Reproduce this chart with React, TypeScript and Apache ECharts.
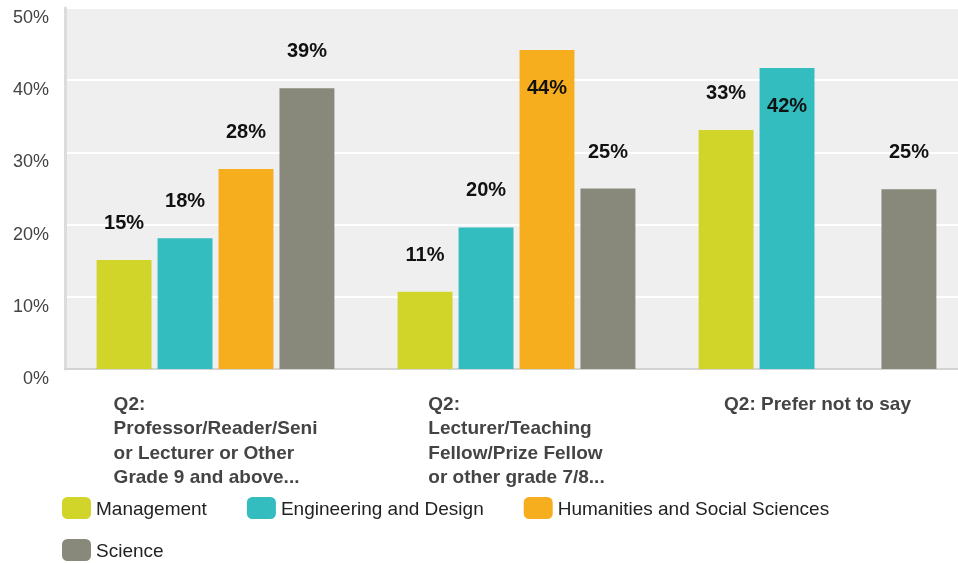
import React, { useEffect, useRef } from "react";
import * as echarts from "echarts";

const categories = [
  "Q2:\nProfessor/Reader/Seni\nor Lecturer or Other\nGrade 9 and above...",
  "Q2:\nLecturer/Teaching\nFellow/Prize Fellow\nor other grade 7/8...",
  "Q2: Prefer not to say",
];
const seriesNames = [
  "Management",
  "Engineering and Design",
  "Humanities and Social Sciences",
  "Science",
];
const management = [15.1, 10.7, 33.1];
const engineering = [18.1, 19.6, 41.7];
const humanities = [27.7, 44.2, null];
const science = [38.9, 25.0, 24.9];
const colors = ["#d1d52a", "#33bdbf", "#f6ae1f", "#88897a"];
const yTicks = [0, 10, 20, 30, 40, 50];

const FONT = "'Liberation Sans', Arial, Helvetica, sans-serif";

export default function App() {
  const ref = useRef<HTMLDivElement>(null);
  useEffect(() => {
    if (!ref.current) return;
    const chart = echarts.init(ref.current, undefined, { renderer: "svg" });
    const allData = [management, engineering, humanities, science];
    const series = allData.map((vals, i) => ({
      name: seriesNames[i],
      type: "bar",
      barCategoryGap: "21%",
      barGap: "11%",
      itemStyle: { color: colors[i] },
      data: vals.map((v) =>
        v == null
          ? null
          : {
              value: v,
              label:
                v >= 40
                  ? { position: "insideTop", distance: 27 }
                  : { position: "top", distance: 28 },
            }
      ),
      label: {
        show: true,
        color: "#111",
        fontSize: 20,
        fontWeight: "bold",
        fontFamily: FONT,
        formatter: (p: any) => `${Math.round(p.value)}%`,
      },
    }));
    const legendBase = {
      left: 62,
      orient: "horizontal",
      icon: "roundRect",
      itemWidth: 29,
      itemHeight: 22,
      itemGap: 40,
      padding: 0,
      textStyle: { fontSize: 19, color: "#222", fontFamily: FONT },
    };
    chart.setOption({
      animation: false,
      textStyle: { fontFamily: FONT },
      grid: {
        left: 65,
        width: 903,
        top: 8,
        bottom: 194,
        show: true,
        backgroundColor: "#efefef",
        borderWidth: 0,
        containLabel: false,
        outerBoundsMode: "none",
      },
      legend: [
        { ...legendBase, data: seriesNames.slice(0, 3), top: 497 },
        { ...legendBase, data: seriesNames.slice(3), top: 539 },
      ],
      xAxis: {
        type: "category",
        data: categories,
        axisTick: { show: false },
        axisLine: { show: true, lineStyle: { color: "#d3d3d3", width: 2 } },
        axisLabel: {
          interval: 0,
          margin: 22,
          align: "center",
          formatter: (v: string) =>
            v
              .split("\n")
              .map((l) => `{a|${l}}`)
              .join("\n"),
          rich: {
            a: {
              align: "left",
              fontSize: 19,
              fontWeight: "bold",
              color: "#444",
              lineHeight: 24.5,
              fontFamily: FONT,
            },
          },
        },
      },
      yAxis: {
        type: "value",
        min: yTicks[0],
        max: yTicks[yTicks.length - 1],
        interval: 10,
        axisLine: { show: true, lineStyle: { color: "#dcdcdc", width: 3 } },
        axisTick: { show: false },
        splitLine: { show: true, lineStyle: { color: "#ffffff", width: 2 } },
        axisLabel: {
          formatter: (v: number) => `${v}%`,
          fontSize: 18,
          color: "#444",
          margin: 16,
          verticalAlign: "top",
          fontFamily: FONT,
        },
      },
      series,
    });
    return () => chart.dispose();
  }, []);
  return (
    <div
      ref={ref}
      style={{ position: "fixed", left: 0, top: 0, width: 958, height: 563 }}
    />
  );
}
